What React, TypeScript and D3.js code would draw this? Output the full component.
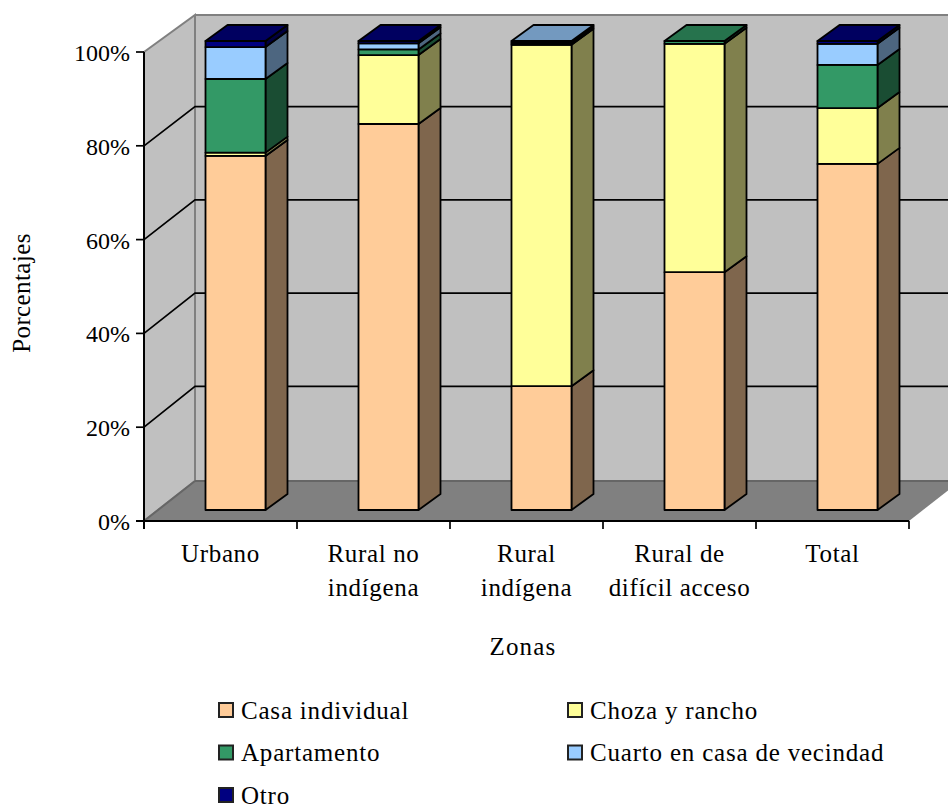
import React from "react";
import * as d3 from "d3";

const categories = ["Urbano", "Rural no|indígena", "Rural|indígena", "Rural de|difícil acceso", "Total"];
const seriesNames = ["Casa individual", "Choza y rancho", "Apartamento", "Cuarto en casa de vecindad", "Otro"];
const casa = [75.5, 82.3, 26.4, 50.7, 73.8];
const choza = [0.7, 14.7, 72.8, 48.7, 11.9];
const apartamento = [15.7, 1.2, 0.4, 0.6, 9.2];
const cuarto = [6.8, 1.3, 0.4, 0, 4.5];
const otro = [1.3, 0.5, 0, 0, 0.6];
const yTicks = [0, 20, 40, 60, 80, 100];
const frontColors = ["#FFCC99", "#FFFF99", "#339966", "#99CCFF", "#000080"];
const sideColors = ["#7F664D", "#80804D", "#1A4D33", "#4D6680", "#000040"];
const topColors = ["#BF9973", "#BFBF73", "#26734D", "#7399BF", "#000060"];

const FONT = "'Liberation Serif', 'Times New Roman', serif";
const allSeries = [casa, choza, apartamento, cuarto, otro];
const rows = categories.map((c, i) => {
  const r: Record<string, any> = { c };
  seriesNames.forEach((s, j) => (r[s] = allSeries[j][i]));
  return r;
});
const stacked = d3.stack<any>().keys(seriesNames)(rows);

const yFront = d3.scaleLinear().domain([0, 100]).range([521, 52]);
const yGrid = d3.scaleLinear().domain([0, 100]).range([479.5, 13.5]);
const yBar = d3.scaleLinear().domain([0, 100]).range([510, 41]);
const x = d3.scaleBand<number>().domain(d3.range(categories.length)).range([144, 909]);
const WALL_TOP = 15;
const WALL_BOTTOM = 481;
const DX = 51;
const BAR_SHIFT = 15;
const BAR_W = 60;
const BD_X = 22;
const BD_Y = 16;

const pts = (p: number[][]) => p.map((q) => q.join(",")).join(" ");

export default function App() {
  const left = 144;
  const right = 909;
  return (
    <svg width={948} height={806} style={{ position: "absolute", left: 0, top: 0, background: "#fff" }} fontFamily={FONT} fill="#000">
      {/* walls */}
      <polygon points={pts([[left + DX, WALL_TOP], [948, WALL_TOP], [948, WALL_BOTTOM], [left + DX, WALL_BOTTOM]])} fill="#C0C0C0" />
      <polygon points={pts([[left, yFront(100)], [left + DX, WALL_TOP], [left + DX, WALL_BOTTOM], [left, yFront(0)]])} fill="#C0C0C0" stroke="#808080" strokeWidth={2} />
      <line x1={left + DX} x2={948} y1={WALL_TOP} y2={WALL_TOP} stroke="#808080" strokeWidth={2} />
      <polygon points={pts([[left, yFront(0)], [right, yFront(0)], [right + DX, WALL_BOTTOM], [left + DX, WALL_BOTTOM]])} fill="#808080" />
      <line x1={left + DX} x2={948} y1={WALL_BOTTOM} y2={WALL_BOTTOM} stroke="#666" strokeWidth={2} />
      <line x1={left} x2={left + DX} y1={yFront(0)} y2={WALL_BOTTOM} stroke="#666" strokeWidth={2} />
      {/* gridlines */}
      {yTicks.slice(1, -1).map((t) => (
        <polyline key={t} points={pts([[left, yFront(t)], [left + DX, yGrid(t)], [948, yGrid(t)]])} stroke="#000" strokeWidth={1.7} fill="none" />
      ))}
      {/* axes */}
      <line x1={left} x2={left} y1={yFront(100)} y2={yFront(0) + 8} stroke="#000" strokeWidth={2} />
      <line x1={left - 8} x2={right} y1={yFront(0)} y2={yFront(0)} stroke="#000" strokeWidth={2} />
      {yTicks.map((t) => (
        <g key={t}>
          <line x1={left - 8} x2={left} y1={yFront(t)} y2={yFront(t)} stroke="#000" strokeWidth={1.7} />
          <text x={130} y={yFront(t) + 9} textAnchor="end" fontSize={24}>{t}%</text>
        </g>
      ))}
      {categories.map((_, i) => (
        <line key={i} x1={x(i)! + x.bandwidth()} x2={x(i)! + x.bandwidth()} y1={yFront(0)} y2={yFront(0) + 8} stroke="#000" strokeWidth={1.7} />
      ))}
      {/* bars */}
      {categories.map((c, i) => {
        const x0 = x(i)! + x.bandwidth() / 2 + BAR_SHIFT - BAR_W / 2;
        const x1 = x0 + BAR_W;
        const topIdx = d3.max(d3.range(5).filter((s) => allSeries[s][i] > 0))!;
        return (
          <g key={c} stroke="#000" strokeWidth={1.8} strokeLinejoin="round">
            {stacked.map((layer, s) => {
              const [a, b] = layer[i];
              if (b - a <= 0) return null;
              const y0 = yBar(a);
              const y1 = yBar(b);
              return (
                <g key={s}>
                  <polygon points={pts([[x1, y0], [x1 + BD_X, y0 - BD_Y], [x1 + BD_X, y1 - BD_Y], [x1, y1]])} fill={sideColors[s]} />
                  <rect x={x0} y={y1} width={BAR_W} height={y0 - y1} fill={frontColors[s]} />
                  {s === topIdx && (
                    <polygon points={pts([[x0, y1], [x0 + BD_X, y1 - BD_Y], [x1 + BD_X, y1 - BD_Y], [x1, y1]])} fill={topColors[s]} />
                  )}
                </g>
              );
            })}
          </g>
        );
      })}
      {/* category labels */}
      {categories.map((c, i) => (
        <text key={c} textAnchor="middle" fontSize={25} letterSpacing={0.65}>
          {c.split("|").map((l, k) => (
            <tspan key={k} x={x(i)! + x.bandwidth() / 2} y={562 + k * 34}>{l}</tspan>
          ))}
        </text>
      ))}
      <text x={523} y={655} textAnchor="middle" fontSize={25} letterSpacing={1.2}>Zonas</text>
      <text transform="translate(29.5,293) rotate(-90)" textAnchor="middle" fontSize={25} letterSpacing={0.4}>Porcentajes</text>
      {/* legend */}
      {seriesNames.map((s, i) => {
        const col = i % 2;
        const row = Math.floor(i / 2);
        const lx = col === 0 ? 219 : 568;
        const ly = 703 + row * 42.5;
        return (
          <g key={s}>
            <rect x={lx} y={ly} width={14} height={14} fill={frontColors[i]} stroke="#222" strokeWidth={2} />
            <text x={lx + 22} y={ly + 15.5} fontSize={25} letterSpacing={0.8}>{s}</text>
          </g>
        );
      })}
    </svg>
  );
}
